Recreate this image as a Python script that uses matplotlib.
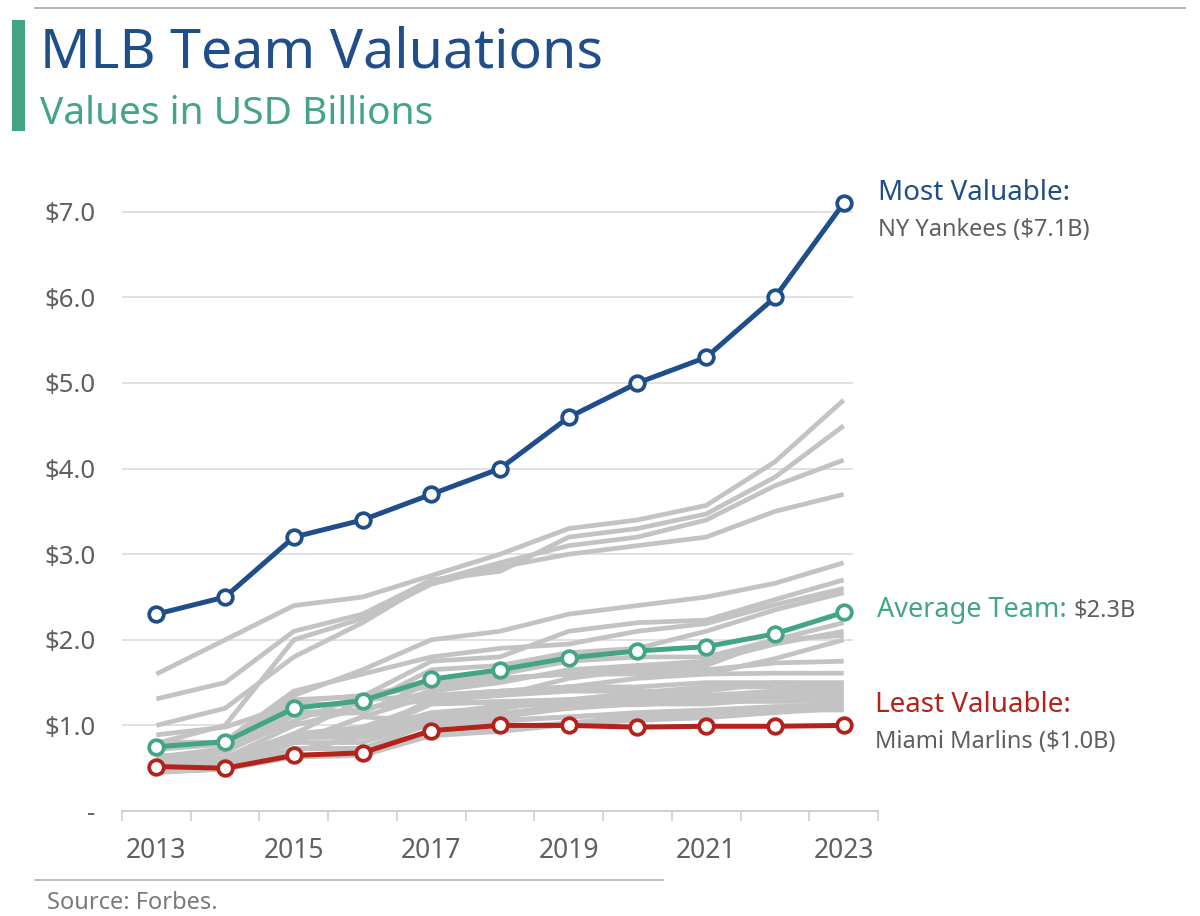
import matplotlib
matplotlib.use("Agg")
import matplotlib.pyplot as plt
from matplotlib.ticker import FixedLocator, FuncFormatter

# Forbes MLB team valuations, USD billions
years = [2013, 2014, 2015, 2016, 2017, 2018, 2019, 2020, 2021, 2022, 2023]
yankees = [2.30, 2.50, 3.20, 3.40, 3.70, 4.00, 4.60, 5.00, 5.30, 6.00, 7.10]
average = [0.75, 0.81, 1.20, 1.29, 1.54, 1.65, 1.79, 1.87, 1.92, 2.07, 2.32]
marlins = [0.52, 0.50, 0.65, 0.68, 0.94, 1.00, 1.00, 0.98, 0.99, 0.99, 1.00]

other_teams = [
    [1.60, 2.00, 2.40, 2.50, 2.75, 3.00, 3.30, 3.40, 3.57, 4.08, 4.80],
    [1.31, 1.50, 2.10, 2.30, 2.70, 2.80, 3.20, 3.30, 3.47, 3.90, 4.50],
    [1.00, 1.20, 1.80, 2.20, 2.68, 2.90, 3.10, 3.20, 3.40, 3.80, 4.10],
    [0.79, 1.00, 2.00, 2.25, 2.65, 2.85, 3.00, 3.10, 3.20, 3.50, 3.70],
    [0.81, 0.80, 1.35, 1.65, 2.00, 2.10, 2.30, 2.40, 2.50, 2.66, 2.90],
    [0.72, 0.78, 1.30, 1.34, 1.75, 1.80, 2.10, 2.20, 2.23, 2.47, 2.70],
    [0.72, 0.82, 1.40, 1.60, 1.80, 1.90, 1.95, 2.10, 2.19, 2.41, 2.60],
    [0.89, 0.98, 1.25, 1.24, 1.65, 1.70, 1.85, 1.90, 2.10, 2.35, 2.55],
    [0.64, 0.68, 1.12, 1.15, 1.50, 1.60, 1.75, 1.80, 1.80, 2.00, 2.20],
    [0.63, 0.73, 1.15, 1.18, 1.40, 1.50, 1.65, 1.70, 1.75, 1.95, 2.10],
    [0.62, 0.62, 1.00, 1.20, 1.30, 1.35, 1.55, 1.65, 1.70, 2.00, 2.05],
    [0.63, 0.70, 1.28, 1.35, 1.45, 1.55, 1.60, 1.65, 1.60, 1.78, 2.00],
    [0.60, 0.70, 1.05, 1.35, 1.50, 1.55, 1.60, 1.60, 1.65, 1.73, 1.75],
    [0.57, 0.61, 0.90, 1.30, 1.35, 1.40, 1.45, 1.55, 1.60, 1.61, 1.61],
    [0.60, 0.60, 0.90, 0.91, 1.30, 1.35, 1.40, 1.40, 1.40, 1.50, 1.50],
    [0.53, 0.53, 0.80, 1.10, 1.35, 1.40, 1.45, 1.45, 1.50, 1.50, 1.48],
    [0.56, 0.57, 0.88, 0.93, 1.10, 1.20, 1.30, 1.38, 1.45, 1.45, 1.45],
    [0.59, 0.58, 0.84, 0.93, 1.15, 1.21, 1.28, 1.30, 1.34, 1.38, 1.43],
    [0.55, 0.60, 0.89, 0.89, 1.25, 1.27, 1.30, 1.35, 1.35, 1.40, 1.40],
    [0.48, 0.57, 0.90, 0.98, 1.26, 1.28, 1.30, 1.32, 1.32, 1.37, 1.38],
    [0.57, 0.58, 0.86, 0.86, 1.10, 1.15, 1.20, 1.27, 1.30, 1.33, 1.35],
    [0.55, 0.57, 0.80, 0.80, 1.05, 1.10, 1.20, 1.25, 1.25, 1.31, 1.32],
    [0.53, 0.53, 0.80, 1.10, 1.05, 1.13, 1.25, 1.24, 1.29, 1.30, 1.30],
    [0.60, 0.62, 0.89, 0.89, 1.13, 1.23, 1.27, 1.25, 1.28, 1.28, 1.28],
    [0.47, 0.50, 0.73, 0.73, 1.02, 1.06, 1.10, 1.15, 1.18, 1.22, 1.24],
    [0.46, 0.49, 0.70, 0.87, 1.00, 1.05, 1.10, 1.13, 1.17, 1.20, 1.22],
    [0.45, 0.49, 0.63, 0.65, 0.88, 0.93, 1.01, 1.06, 1.09, 1.15, 1.20],
    [0.46, 0.50, 0.73, 0.73, 0.92, 0.97, 1.03, 1.10, 1.13, 1.18, 1.18],
]

navy = "#1f4e8a"
green = "#43a585"
red = "#b3221b"
gray_line = "#c3c3c3"
text_gray = "#5f5f5f"

plt.rcParams["font.family"] = ["Noto Sans", "DejaVu Sans"]

fig = plt.figure(figsize=(12, 9.16), dpi=100)
ax = fig.add_axes([0.1017, 0.1146, 0.63, 0.70])

x = list(range(len(years)))
for team in other_teams:
    ax.plot(x, team, color=gray_line, lw=3.4, solid_capstyle="butt", zorder=2)

def highlight(vals, col):
    ax.plot(x, vals, color=col, lw=3.6, marker="o", ms=10.5, mfc="white",
            mec=col, mew=2.7, zorder=4)

highlight(marlins, red)
highlight(average, green)
highlight(yankees, navy)

ax.set_xlim(-0.5, len(years) - 0.5)
ax.set_ylim(0, 7.49)

for s in ["top", "right", "left"]:
    ax.spines[s].set_visible(False)
ax.spines["bottom"].set_color("#d0d0d0")
ax.spines["bottom"].set_linewidth(1.5)

ax.yaxis.set_major_locator(FixedLocator([0, 1, 2, 3, 4, 5, 6, 7]))
ax.yaxis.set_major_formatter(FuncFormatter(lambda v, p: "-" if v == 0 else "${:.1f}".format(v)))
ax.tick_params(axis="y", length=0, pad=19, labelsize=18.5, labelcolor=text_gray)
for g in [1, 2, 3, 4, 5, 6, 7]:
    ax.axhline(g, xmin=0, xmax=0.966, color="#dcdcdc", lw=1.2, zorder=1)

ax.set_xticks(x[::2])
ax.set_xticklabels([str(y) for y in years[::2]])
ax.set_xticks([i - 0.5 for i in range(len(years) + 1)], minor=True)
ax.tick_params(axis="x", which="major", length=0, pad=19, labelsize=19,
               labelcolor=text_gray)
ax.tick_params(axis="x", which="minor", length=7, width=1.2, color="#d0d0d0",
               direction="out")

# right-side labels
fig.text(878 / 1200, 1 - 193 / 916, "Most Valuable:", color=navy, fontsize=20,
         fontweight="medium", va="center", ha="left")
fig.text(878 / 1200, 1 - 230 / 916, "NY Yankees ($7.1B)", color=text_gray,
         fontsize=17, va="center", ha="left")
avg_lbl = fig.text(877 / 1200, 1 - 610 / 916, "Average Team:", color=green, fontsize=19.5,
                   fontweight="medium", va="center", ha="left")
ax.annotate("$2.3B", xy=(1, 0.5), xycoords=avg_lbl, xytext=(5, -0.5),
            textcoords="offset points", color=text_gray, fontsize=17,
            va="center", ha="left", annotation_clip=False)
fig.text(875 / 1200, 1 - 705 / 916, "Least Valuable:", color=red, fontsize=20,
         fontweight="medium", va="center", ha="left")
fig.text(875 / 1200, 1 - 742 / 916, "Miami Marlins ($1.0B)", color=text_gray,
         fontsize=17, va="center", ha="left")

# header
fig.add_artist(plt.Rectangle((12 / 1200, 1 - 131 / 916), 13 / 1200, 111 / 916,
                             transform=fig.transFigure, color=green, lw=0))
fig.add_artist(plt.Line2D([35 / 1200, 1185 / 1200], [1 - 8 / 916, 1 - 8 / 916],
                          transform=fig.transFigure, color="#a8a8a8", lw=1.2))
fig.text(40 / 1200, 1 - 53 / 916, "MLB Team Valuations", color=navy, fontsize=40,
         fontweight="light", va="center", ha="left")
fig.text(40 / 1200, 1 - 114 / 916, "Values in USD Billions", color=green, fontsize=28,
         fontweight="light", va="center", ha="left")

# footer
fig.add_artist(plt.Line2D([35 / 1200, 663 / 1200], [1 - 880 / 916, 1 - 880 / 916],
                          transform=fig.transFigure, color="#b0b0b0", lw=1.2))
fig.text(47 / 1200, 1 - 903 / 916, "Source: Forbes.", color="#7a7a7a", fontsize=17,
         va="center", ha="left")

fig.savefig("out.png", dpi=100)
